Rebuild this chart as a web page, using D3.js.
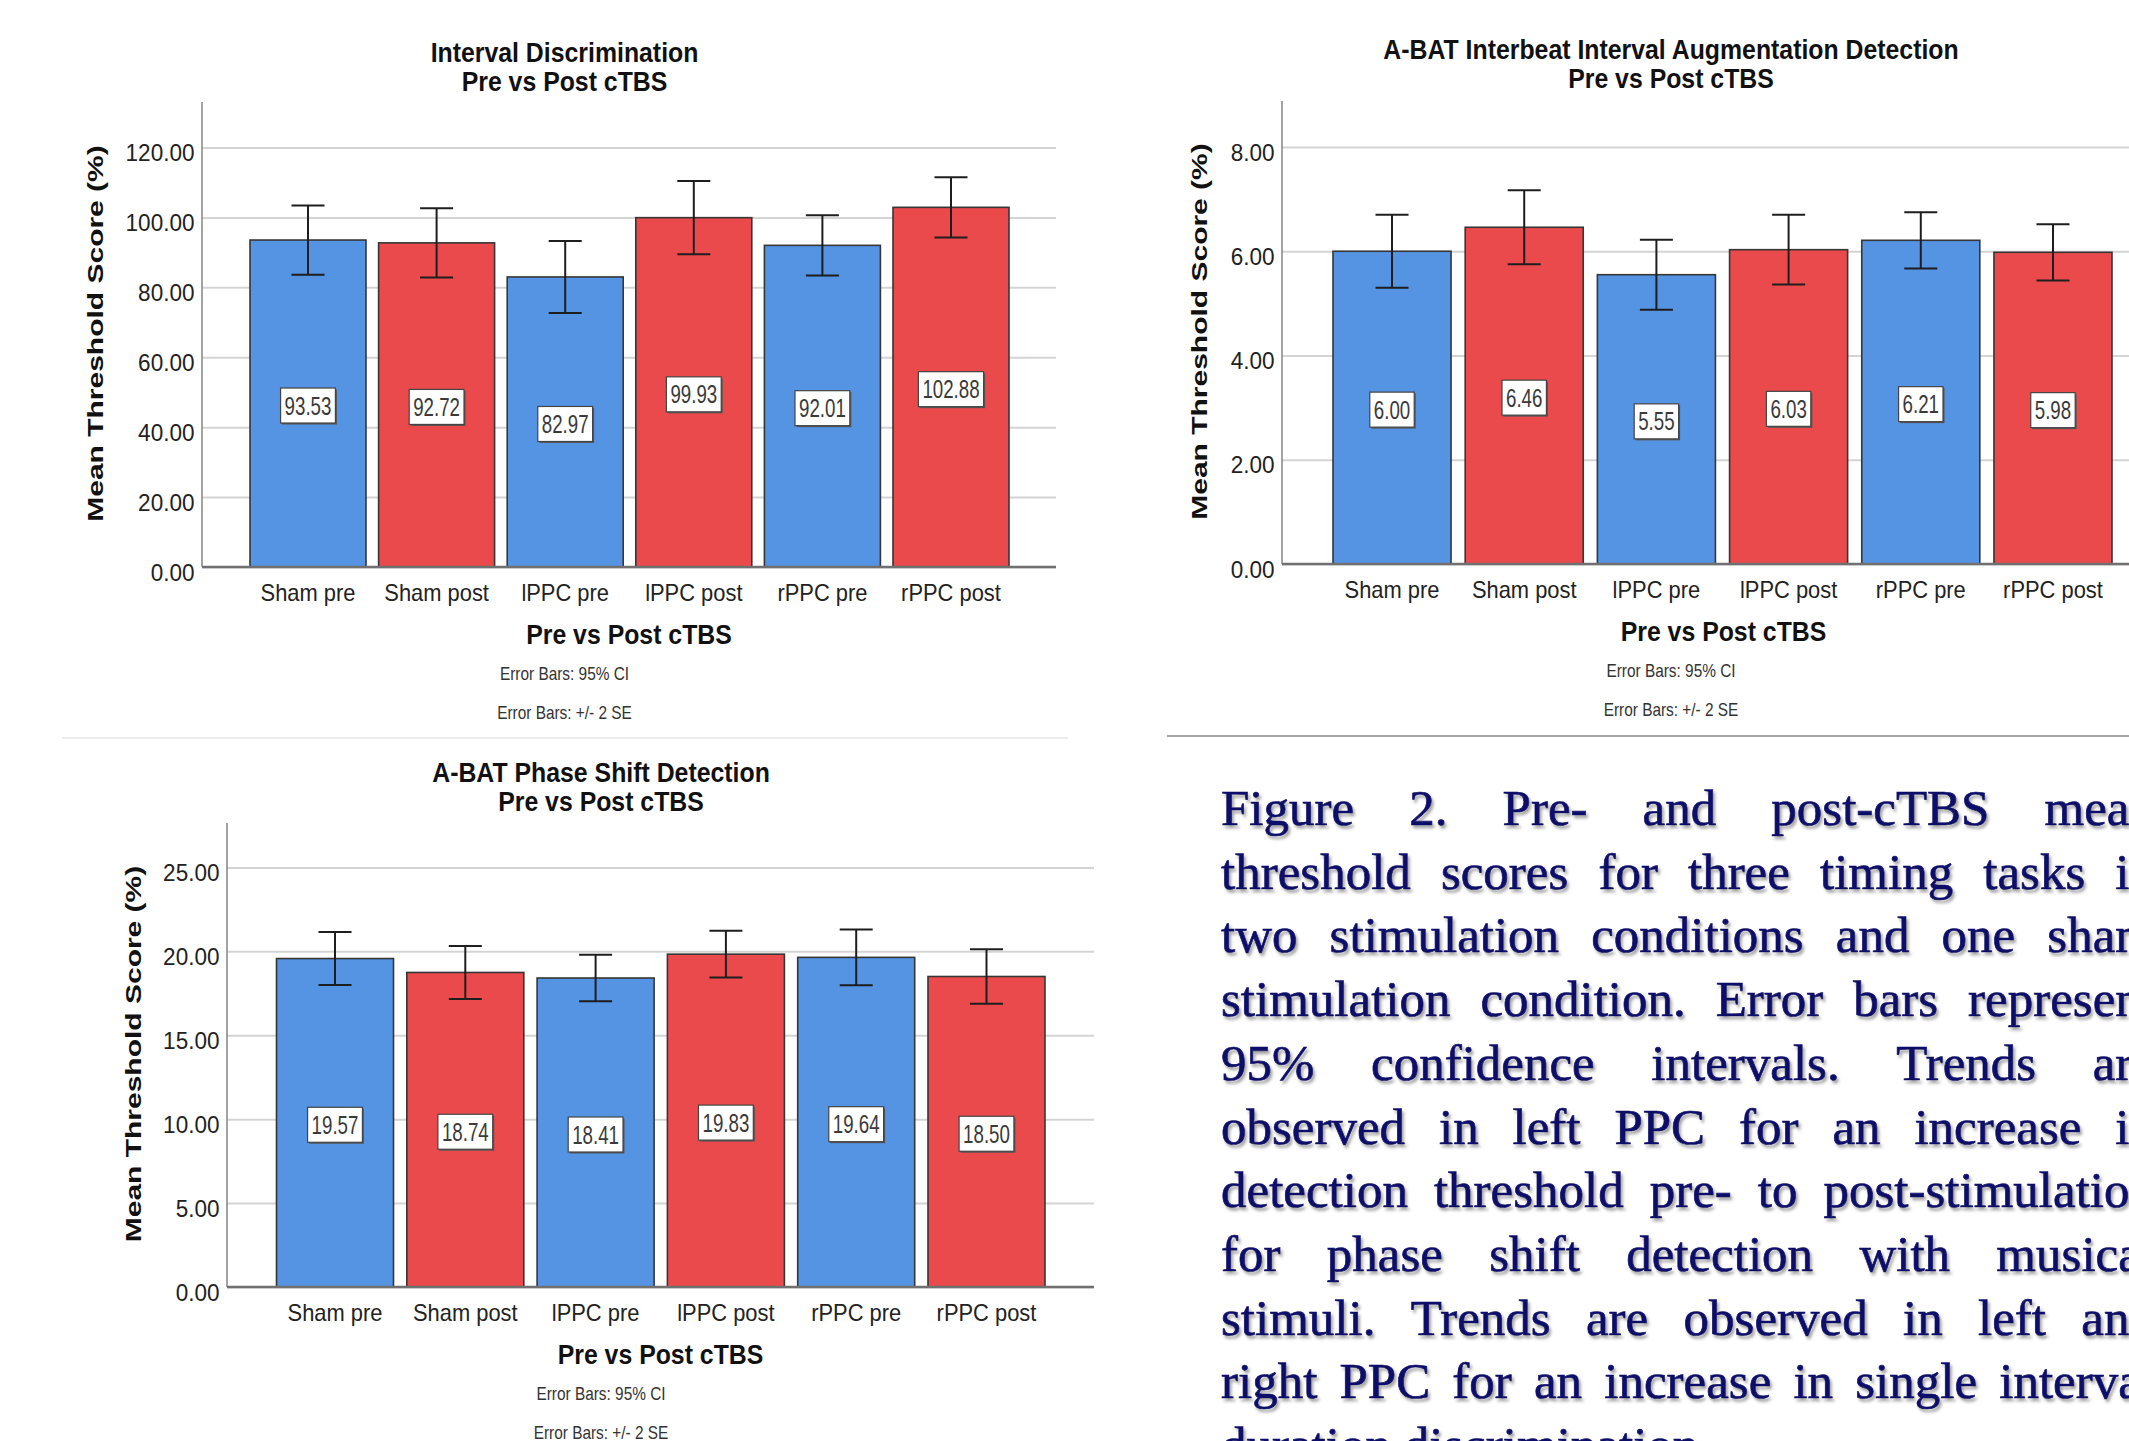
<!DOCTYPE html>
<html><head><meta charset="utf-8">
<script src="https://cdn.jsdelivr.net/npm/d3@7"></script>
<style>html,body{margin:0;padding:0;background:#fff;overflow:hidden} svg{display:block}</style>
</head><body>
<svg id="c" width="2129" height="1441"></svg>
<script>
// ---------------- data ----------------
const categories = ["Sham pre", "Sham post", "lPPC pre", "lPPC post", "rPPC pre", "rPPC post"];

const intervalMeans = [93.53, 92.72, 82.97, 99.93, 92.01, 102.88];
const intervalCI    = [9.9, 9.9, 10.3, 10.5, 8.6, 8.6];
const intervalTicks = [0, 20, 40, 60, 80, 100, 120];

const augmentMeans = [6.00, 6.46, 5.55, 6.03, 6.21, 5.98];
const augmentCI    = [0.70, 0.71, 0.67, 0.67, 0.54, 0.54];
const augmentTicks = [0, 2, 4, 6, 8];

const phaseMeans = [19.57, 18.74, 18.41, 19.83, 19.64, 18.50];
const phaseCI    = [1.58, 1.58, 1.39, 1.39, 1.66, 1.63];
const phaseTicks = [0, 5, 10, 15, 20, 25];

const intervalTitle = ["Interval Discrimination", "Pre vs Post cTBS"];
const augmentTitle  = ["A-BAT Interbeat Interval Augmentation Detection", "Pre vs Post cTBS"];
const phaseTitle    = ["A-BAT Phase Shift Detection", "Pre vs Post cTBS"];
const xAxisTitle = "Pre vs Post cTBS";
const yAxisTitle = "Mean Threshold Score (%)";
const footnotes = ["Error Bars: 95% CI", "Error Bars: +/- 2 SE"];

const captionLines = [
  "Figure 2. Pre- and post-cTBS mean",
  "threshold scores for three timing tasks in",
  "two stimulation conditions and one sham",
  "stimulation condition. Error bars represent",
  "95% confidence intervals. Trends are",
  "observed in left PPC for an increase in",
  "detection threshold pre- to post-stimulation",
  "for phase shift detection with musical",
  "stimuli. Trends are observed in left and",
  "right PPC for an increase in single interval",
  "duration discrimination."
];

// ---------------- style / layout ----------------
const SANS = "'Liberation Sans', Arial, Helvetica, sans-serif";
const SERIF = "'Liberation Serif', 'Times New Roman', serif";
const BLUE = "#5593e3", RED = "#ea4a4c";
const svg = d3.select("#c");

const defs = svg.append("defs");
const f = defs.append("filter").attr("id", "shadow").attr("x", "-5%").attr("y", "-20%").attr("width", "110%").attr("height", "150%");
f.append("feDropShadow").attr("dx", 2).attr("dy", 3).attr("stdDeviation", 1.6)
  .attr("flood-color", "#666").attr("flood-opacity", 0.6);

// separators
svg.append("line").attr("x1", 62).attr("x2", 1068).attr("y1", 738).attr("y2", 738)
  .attr("stroke", "#ececec").attr("stroke-width", 2);
svg.append("line").attr("x1", 1167).attr("x2", 2129).attr("y1", 736).attr("y2", 736)
  .attr("stroke", "#a6a6a6").attr("stroke-width", 2);

function sqText(g, x, y, s, txt) {
  return g.append("text").attr("transform", `translate(${x},${y}) scale(${s},1)`).text(txt);
}

function drawChart(cfg) {
  const g = svg.append("g");
  const y = d3.scaleLinear().domain(cfg.domain).range([cfg.y0, cfg.yTopVal]);
  const x = d3.scaleBand().domain(categories).range([cfg.barL, cfg.barR]).paddingInner(cfg.pad).paddingOuter(0);

  // y axis with gridlines
  const ya = g.append("g").attr("transform", `translate(${cfg.left},0)`)
    .call(d3.axisLeft(y).tickValues(cfg.ticks).tickSize(-(cfg.right - cfg.left)).tickPadding(0).tickFormat(d3.format(".2f")));
  ya.select(".domain").remove();
  ya.selectAll(".tick line").attr("stroke", "#d4d4d4").attr("stroke-width", 2);
  ya.selectAll(".tick text")
    .attr("x", null).attr("dy", null)
    .attr("transform", "translate(-7.5,13) scale(0.92,1)")
    .attr("font-family", SANS).attr("font-size", 24.5).attr("fill", "#222").attr("text-anchor", "end");

  // y axis line
  g.append("line").attr("x1", cfg.left).attr("x2", cfg.left).attr("y1", cfg.top).attr("y2", cfg.y0)
    .attr("stroke", "#8c8c8c").attr("stroke-width", 1.6);

  // bars
  g.selectAll("rect.bar").data(cfg.means).join("rect").attr("class", "bar")
    .attr("x", (d, i) => x(categories[i]))
    .attr("width", x.bandwidth())
    .attr("y", d => y(d))
    .attr("height", d => cfg.y0 - y(d))
    .attr("fill", (d, i) => categories[i].endsWith("pre") ? BLUE : RED)
    .attr("stroke", "#363636").attr("stroke-width", 1.6);

  // x axis
  const xa = g.append("g").attr("transform", `translate(0,${cfg.y0})`)
    .call(d3.axisBottom(x).tickSize(0).tickPadding(0));
  xa.select(".domain").remove();
  xa.selectAll(".tick text").attr("y", null).attr("dy", null)
    .attr("transform", "translate(0,34) scale(0.92,1)")
    .attr("font-family", SANS).attr("font-size", 23.8).attr("fill", "#222");
  g.append("line").attr("x1", cfg.left).attr("x2", cfg.right).attr("y1", cfg.y0).attr("y2", cfg.y0)
    .attr("stroke", "#707070").attr("stroke-width", 2.5);

  // error bars
  const cap = 33;
  cfg.means.forEach((m, i) => {
    const cx = x(categories[i]) + x.bandwidth() / 2;
    const lo = y(m - cfg.ci[i]), hi = y(m + cfg.ci[i]);
    const eg = g.append("g").attr("stroke", "#1e1e1e").attr("stroke-width", 2);
    eg.append("line").attr("x1", cx).attr("x2", cx).attr("y1", hi).attr("y2", lo);
    eg.append("line").attr("x1", cx - cap / 2).attr("x2", cx + cap / 2).attr("y1", hi).attr("y2", hi);
    eg.append("line").attr("x1", cx - cap / 2).attr("x2", cx + cap / 2).attr("y1", lo).attr("y2", lo);
  });

  // value labels
  cfg.means.forEach((m, i) => {
    const cx = x(categories[i]) + x.bandwidth() / 2;
    const cy = (cfg.y0 + y(m)) / 2 + 2;
    const lg = g.append("g");
    const shadow = lg.append("rect");
    const box = lg.append("rect");
    const t = sqText(lg, cx, cy + 9, 0.72, m.toFixed(2))
      .attr("font-family", SANS).attr("font-size", 26).attr("fill", "#3a3a3a").attr("text-anchor", "middle");
    const w = t.node().getComputedTextLength() * 0.72 + 8, h = 35;
    shadow.attr("x", cx - w / 2 + 1.5).attr("y", cy - h / 2 + 1.5).attr("width", w).attr("height", h).attr("fill", "#555");
    box.attr("x", cx - w / 2).attr("y", cy - h / 2).attr("width", w).attr("height", h)
      .attr("fill", "#fff").attr("stroke", "#444").attr("stroke-width", 1.2);
  });

  // titles
  cfg.title.forEach((tt, k) => {
    sqText(g, cfg.titleX, cfg.y0 - 505 + k * 29, 0.92, tt)
      .attr("font-family", SANS).attr("font-weight", "bold").attr("font-size", 27)
      .attr("fill", "#111").attr("text-anchor", "middle");
  });
  // x axis title
  sqText(g, (cfg.left + cfg.right) / 2, cfg.y0 + 77, 0.92, xAxisTitle)
    .attr("font-family", SANS).attr("font-weight", "bold").attr("font-size", 27)
    .attr("fill", "#111").attr("text-anchor", "middle");
  // footnotes
  footnotes.forEach((fn, k) => {
    sqText(g, cfg.titleX, cfg.y0 + 113 + k * 39, 0.88, fn)
      .attr("font-family", SANS).attr("font-size", 17.5).attr("fill", "#333").attr("text-anchor", "middle");
  });
  // y axis title
  g.append("text")
    .attr("transform", `translate(${cfg.ylabX},${cfg.ylabY}) scale(0.74,1) rotate(-90)`)
    .attr("font-family", SANS).attr("font-weight", "bold").attr("font-size", 30)
    .attr("fill", "#111").attr("text-anchor", "middle").text(yAxisTitle);
}

drawChart({
  means: intervalMeans, ci: intervalCI, ticks: intervalTicks, title: intervalTitle,
  domain: [0, 120], y0: 567, yTopVal: 147.5, top: 102,
  left: 202, right: 1056, barL: 250, barR: 1009, pad: 0.098,
  titleX: 564.5, ylabX: 103, ylabY: 333.5
});
drawChart({
  means: augmentMeans, ci: augmentCI, ticks: augmentTicks, title: augmentTitle,
  domain: [0, 8], y0: 564, yTopVal: 147, top: 101,
  left: 1282, right: 2165, barL: 1333, barR: 2112, pad: 0.107,
  titleX: 1671, ylabX: 1207, ylabY: 331.5
});
drawChart({
  means: phaseMeans, ci: phaseCI, ticks: phaseTicks, title: phaseTitle,
  domain: [0, 25], y0: 1287, yTopVal: 867.4, top: 823,
  left: 227, right: 1094, barL: 276.5, barR: 1045, pad: 0.102,
  titleX: 601, ylabX: 141, ylabY: 1054
});

// caption (justified lines)
const cap = svg.append("g").attr("filter", "url(#shadow)")
  .attr("font-family", SERIF).attr("font-size", 51).attr("fill", "#10106a")
  .attr("stroke", "#10106a").attr("stroke-width", 0.7);
const L = 1221, R = 2155, base0 = 825, lh = 63.7;
captionLines.forEach((line, li) => {
  const words = line.split(" ");
  const yy = base0 + li * lh;
  const nodes = words.map(w => cap.append("text").attr("y", yy).text(w));
  const widths = nodes.map(n => n.node().getComputedTextLength());
  const total = d3.sum(widths);
  const last = li === captionLines.length - 1;
  const gap = last ? 51 * 0.25 : (R - L - total) / (words.length - 1);
  let xx = L;
  nodes.forEach((n, k) => { n.attr("x", xx); xx += widths[k] + gap; });
});
</script>
</body></html>
